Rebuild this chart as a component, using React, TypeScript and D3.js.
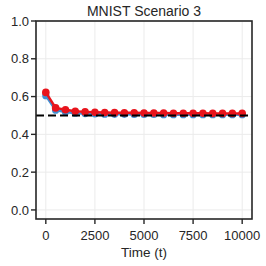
import React from 'react';
import * as d3 from 'd3';

const times = [0, 500, 1000, 1500, 2000, 2500, 3000, 3500, 4000, 4500, 5000, 5500, 6000, 6500, 7000, 7500, 8000, 8500, 9000, 9500, 10000];
const blueValues = [0.605, 0.528, 0.518, 0.512, 0.510, 0.508, 0.507, 0.506, 0.506, 0.505, 0.505, 0.505, 0.504, 0.504, 0.504, 0.504, 0.504, 0.504, 0.504, 0.504, 0.504];
const redValues = [0.622, 0.540, 0.530, 0.522, 0.519, 0.517, 0.516, 0.515, 0.514, 0.514, 0.513, 0.513, 0.513, 0.512, 0.512, 0.512, 0.512, 0.511, 0.511, 0.511, 0.511];
const xTicks = [0, 2500, 5000, 7500, 10000];
const yTicks = [0.0, 0.2, 0.4, 0.6, 0.8, 1.0];
const baseline = 0.5;

const App = () => {
  const left = 36, right = 252, top = 21, bottom = 219;
  const x = d3.scaleLinear().domain([-500, 10500]).range([left, right]);
  const y = d3.scaleLinear().domain([-0.048, 1.0]).range([bottom, top]);
  const font = 'Liberation Sans, Arial, sans-serif';
  const ink = '#262626';

  const line = d3.line<number>()
    .x((_, i) => x(times[i]))
    .y(d => y(d));

  return (
    <svg width={266} height={266} style={{ position: 'absolute', left: 0, top: 0, background: 'white' }}>
      {xTicks.map(t => (
        <line key={'gx' + t} x1={x(t)} x2={x(t)} y1={top} y2={bottom} stroke="#ebebeb" strokeWidth={1} />
      ))}
      {yTicks.map(t => (
        <line key={'gy' + t} x1={left} x2={right} y1={y(t)} y2={y(t)} stroke="#ebebeb" strokeWidth={1} />
      ))}
      <path d={line(blueValues) || ''} fill="none" stroke="#3f8fd2" strokeWidth={2.5} />
      {blueValues.map((v, i) => (
        <circle key={'b' + i} cx={x(times[i])} cy={y(v)} r={3.6} fill="#3f8fd2" />
      ))}
      <path d={line(redValues) || ''} fill="none" stroke="#e8141c" strokeWidth={2.5} />
      {redValues.map((v, i) => (
        <circle key={'r' + i} cx={x(times[i])} cy={y(v)} r={3.8} fill="#e8141c" />
      ))}
      <line x1={left} x2={right} y1={y(baseline)} y2={y(baseline)} stroke="#000" strokeWidth={2} strokeDasharray="8,4" />
      <rect x={left} y={top} width={right - left} height={bottom - top} fill="none" stroke={ink} strokeWidth={1.6} />
      {xTicks.map(t => (
        <g key={'xt' + t}>
          <line x1={x(t)} x2={x(t)} y1={bottom} y2={bottom + 5} stroke={ink} strokeWidth={1.4} />
          <text x={x(t)} y={bottom + 21} textAnchor="middle" fontSize={13} fontFamily={font} fill={ink}>{t}</text>
        </g>
      ))}
      {yTicks.map(t => (
        <g key={'yt' + t}>
          <line x1={left - 5} x2={left} y1={y(t)} y2={y(t)} stroke={ink} strokeWidth={1.4} />
          <text x={left - 7} y={y(t)} dy="0.36em" textAnchor="end" fontSize={13} fontFamily={font} fill={ink}>{t.toFixed(1)}</text>
        </g>
      ))}
      <text x={(left + right) / 2} y={257} textAnchor="middle" fontSize={13.5} fontFamily={font} fill={ink}>Time (t)</text>
      <text x={(left + right) / 2} y={16} textAnchor="middle" fontSize={14} fontFamily={font} fill={ink}>MNIST Scenario 3</text>
    </svg>
  );
};

export default App;
